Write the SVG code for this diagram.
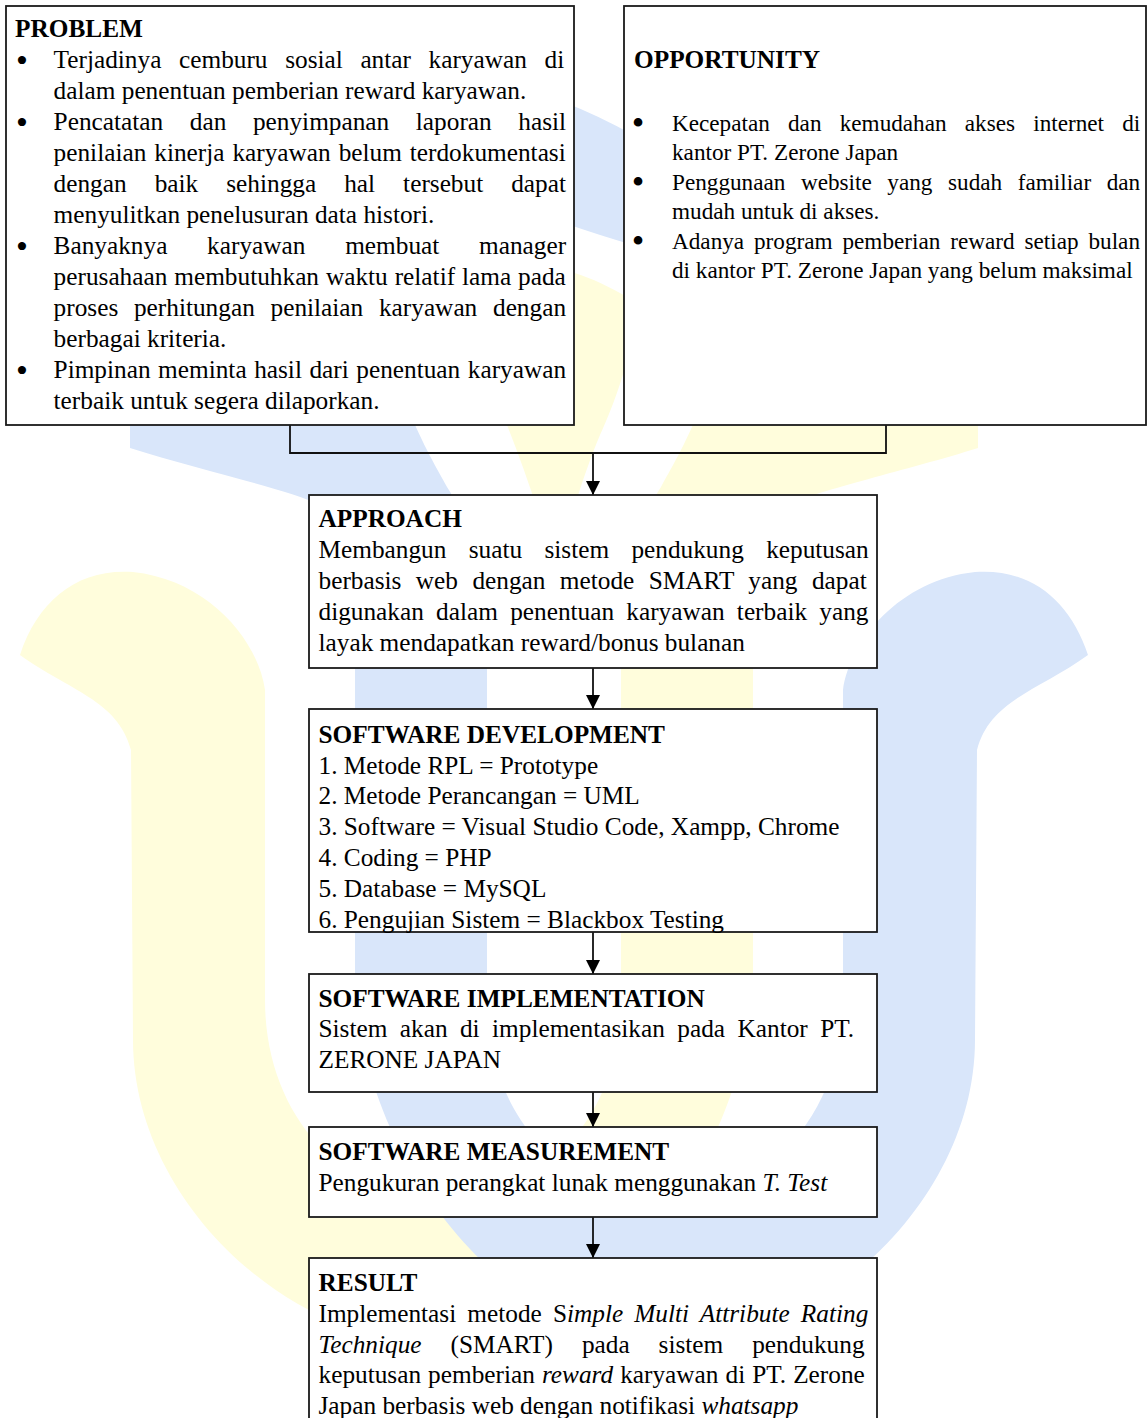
<svg xmlns="http://www.w3.org/2000/svg" width="1148" height="1418" viewBox="0 0 1148 1418">
<style>
.t{font-family:"Liberation Serif","Times New Roman",serif;font-size:25.3px;fill:#000}
.b{font-weight:bold}
.s{font-size:23.2px}
.i{font-style:italic}
.bl{font-size:34px}
.bs{font-size:36px}
.box{fill:#fff;stroke:#1a1a1a;stroke-width:1.8}
.wire{fill:none;stroke:#111;stroke-width:1.8}
.wb{fill:#D9E6FA}
.wy{fill:#FFFDDC}
</style>
<defs>
<marker id="ah" markerWidth="14" markerHeight="14" refX="14" refY="7" orient="auto" markerUnits="userSpaceOnUse"><path d="M0,0 L14,7 L0,14 Z" fill="#000"/></marker>
<path id="ushape" d="M487 1000 L487 670 C487 600 470 520 447 487 C435 465 420 440 405 400 L130 400 L130 448 C200 470 290 490 320 505 C345 520 355 545 355 600 L355 1000 C380 1200 530 1345 665 1345 C820 1345 975 1200 975 1040 L977 750 C990 700 1040 690 1088 655 C1070 600 1030 568 975 572 C900 580 850 640 843 690 L843 1000 C843 1120 760 1200 665 1200 C570 1200 487 1120 487 1000 Z"/>
</defs>
<rect x="0" y="0" width="1148" height="1418" fill="#fff"/>
<g id="watermark">
<use href="#ushape" class="wy" transform="matrix(-1 0 0 1 1108 0)"/>
<use href="#ushape" class="wb"/>
<path class="wy" d="M556 570 C545 530 525 470 505 420 C480 360 470 300 520 268 C560 262 600 280 640 305 C630 360 614 405 600 435 C585 470 570 520 556 570 Z"/>
<path class="wb" d="M450 70 Q560 90 650 145 L650 250 Q560 225 450 180 Z"/>
</g>
<g id="connectors">
<path class="wire" d="M290 425 V453 H886 V425"/>
<line class="wire" x1="593" y1="453" x2="593" y2="495" marker-end="url(#ah)"/>
<line class="wire" x1="593" y1="668" x2="593" y2="709" marker-end="url(#ah)"/>
<line class="wire" x1="593" y1="932" x2="593" y2="974" marker-end="url(#ah)"/>
<line class="wire" x1="593" y1="1092" x2="593" y2="1127" marker-end="url(#ah)"/>
<line class="wire" x1="593" y1="1217" x2="593" y2="1258" marker-end="url(#ah)"/>
</g>
<g id="node-problem">
<rect class="box" x="6" y="6" width="568" height="419"/>
<text class="t b" x="15" y="37">PROBLEM</text>
<text class="t bl" x="22" y="72" text-anchor="middle">•</text>
<text class="t bl" x="22" y="134" text-anchor="middle">•</text>
<text class="t bl" x="22" y="258" text-anchor="middle">•</text>
<text class="t bl" x="22" y="382" text-anchor="middle">•</text>
<text class="t" x="53.6" y="68" style="word-spacing:11.3px">Terjadinya cemburu sosial antar karyawan di</text>
<text class="t" x="53.6" y="99">dalam penentuan pemberian reward karyawan.</text>
<text class="t" x="53.6" y="130" style="word-spacing:20.3px">Pencatatan dan penyimpanan laporan hasil</text>
<text class="t" x="53.6" y="161" style="word-spacing:1.6px">penilaian kinerja karyawan belum terdokumentasi</text>
<text class="t" x="53.6" y="192" style="word-spacing:21.7px">dengan baik sehingga hal tersebut dapat</text>
<text class="t" x="53.6" y="223">menyulitkan penelusuran data histori.</text>
<text class="t" x="53.6" y="254" style="word-spacing:33.4px">Banyaknya karyawan membuat manager</text>
<text class="t" x="53.6" y="285" style="word-spacing:0.6px">perusahaan membutuhkan waktu relatif lama pada</text>
<text class="t" x="53.6" y="316" style="word-spacing:9.4px">proses perhitungan penilaian karyawan dengan</text>
<text class="t" x="53.6" y="347">berbagai kriteria.</text>
<text class="t" x="53.6" y="378" style="word-spacing:1.2px">Pimpinan meminta hasil dari penentuan karyawan</text>
<text class="t" x="53.6" y="409">terbaik untuk segera dilaporkan.</text>
</g>
<g id="node-opportunity">
<rect class="box" x="624" y="6" width="522" height="419"/>
<text class="t b" x="634" y="68">OPPORTUNITY</text>
<text class="t bs" x="638" y="134.5" text-anchor="middle">•</text>
<text class="t bs" x="638" y="193.5" text-anchor="middle">•</text>
<text class="t bs" x="638" y="252.5" text-anchor="middle">•</text>
<text class="t s" x="672" y="131" style="word-spacing:12.4px">Kecepatan dan kemudahan akses internet di</text>
<text class="t s" x="672" y="160">kantor PT. Zerone Japan</text>
<text class="t s" x="672" y="190" style="word-spacing:9.8px">Penggunaan website yang sudah familiar dan</text>
<text class="t s" x="672" y="219">mudah untuk di akses.</text>
<text class="t s" x="672" y="249" style="word-spacing:4.1px">Adanya program pemberian reward setiap bulan</text>
<text class="t s" x="672" y="278">di kantor PT. Zerone Japan yang belum maksimal</text>
</g>
<g id="node-approach">
<rect class="box" x="309" y="495" width="568" height="173"/>
<text class="t b" x="318.5" y="527.3">APPROACH</text>
<text class="t" x="318.5" y="558.2" style="word-spacing:16px">Membangun suatu sistem pendukung keputusan</text>
<text class="t" x="318.5" y="589" style="word-spacing:8.1px">berbasis web dengan metode SMART yang dapat</text>
<text class="t" x="318.5" y="619.9" style="word-spacing:5.9px">digunakan dalam penentuan karyawan terbaik yang</text>
<text class="t" x="318.5" y="650.7">layak mendapatkan reward/bonus bulanan</text>
</g>
<g id="node-development">
<rect class="box" x="309" y="709" width="568" height="223"/>
<text class="t b" x="318.5" y="742.7">SOFTWARE DEVELOPMENT</text>
<text class="t" x="318.5" y="773.5">1. Metode RPL = Prototype</text>
<text class="t" x="318.5" y="804.3">2. Metode Perancangan = UML</text>
<text class="t" x="318.5" y="835.1">3. Software = Visual Studio Code, Xampp, Chrome</text>
<text class="t" x="318.5" y="866">4. Coding = PHP</text>
<text class="t" x="318.5" y="896.8">5. Database = MySQL</text>
<text class="t" x="318.5" y="927.6">6. Pengujian Sistem = Blackbox Testing</text>
</g>
<g id="node-implementation">
<rect class="box" x="309" y="974" width="568" height="118"/>
<text class="t b" x="318.5" y="1006.5">SOFTWARE IMPLEMENTATION</text>
<text class="t" x="318.5" y="1037.3" style="word-spacing:6.1px">Sistem akan di implementasikan pada Kantor PT.</text>
<text class="t" x="318.5" y="1068.1">ZERONE JAPAN</text>
</g>
<g id="node-measurement">
<rect class="box" x="309" y="1127" width="568" height="90"/>
<text class="t b" x="318.5" y="1160">SOFTWARE MEASUREMENT</text>
<text class="t" x="318.5" y="1190.7">Pengukuran perangkat lunak menggunakan <tspan class="i">T. Test</tspan></text>
</g>
<g id="node-result">
<rect class="box" x="309" y="1258" width="568" height="200"/>
<text class="t b" x="318.5" y="1290.7">RESULT</text>
<text class="t" x="318.5" y="1321.7" style="word-spacing:4.8px">Implementasi metode S<tspan class="i">imple Multi Attribute Rating</tspan></text>
<text class="t" x="318.5" y="1352.5" style="word-spacing:22.6px"><tspan class="i">Technique</tspan> (SMART) pada sistem pendukung</text>
<text class="t" x="318.5" y="1383.3" style="word-spacing:0.7px">keputusan pemberian <tspan class="i">reward</tspan> karyawan di PT. Zerone</text>
<text class="t" x="318.5" y="1414">Japan berbasis web dengan notifikasi <tspan class="i">whatsapp</tspan></text>
</g>
</svg>
